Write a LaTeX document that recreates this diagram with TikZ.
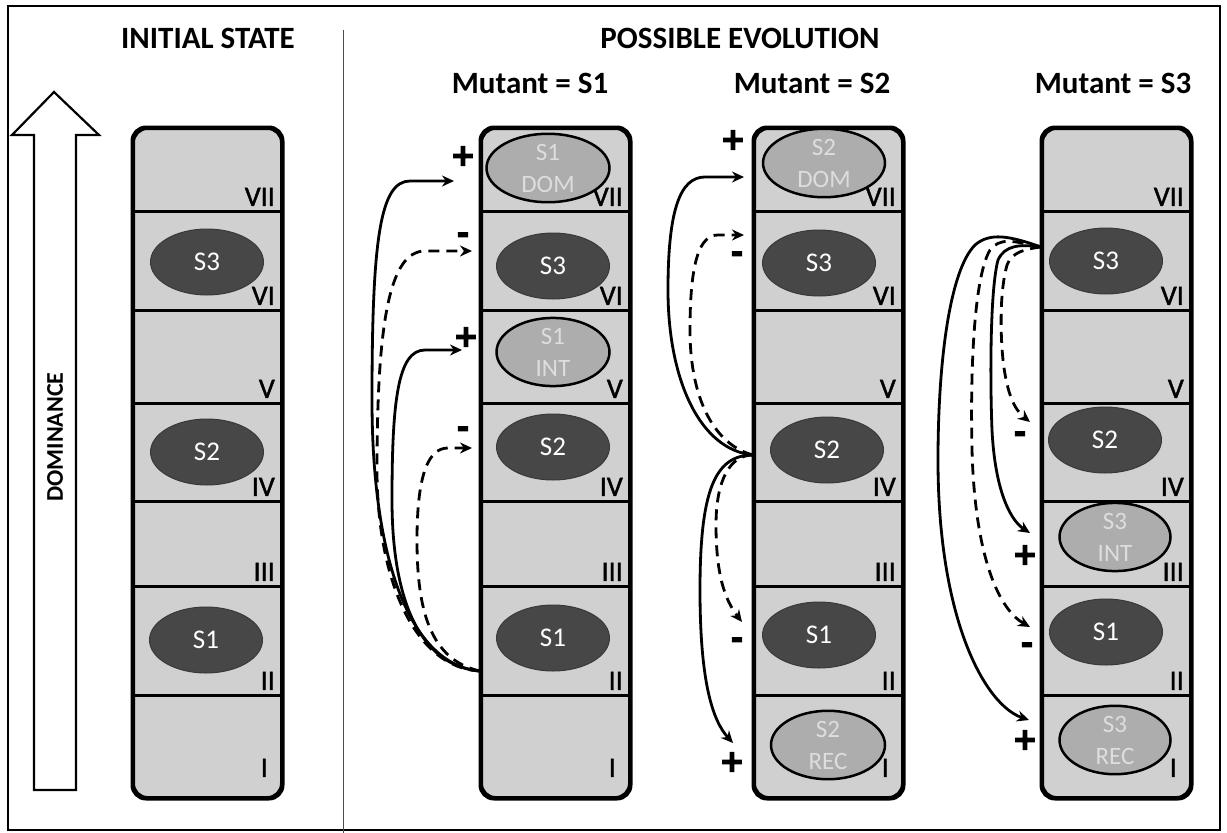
\documentclass[tikz,border=0pt]{standalone}
\usepackage{fontspec}
\setmainfont{Carlito}
\newfontfamily\signfont{DejaVu Sans Bold}[FakeBold=4]
\newfontfamily\romfont{Carlito}[FakeBold=1.5]
\usetikzlibrary{arrows.meta,shapes.geometric}
\definecolor{colfill}{HTML}{D0D0D0}
\definecolor{darkfill}{HTML}{474747}
\definecolor{lightfill}{HTML}{ADADAD}
\definecolor{lighttxt}{HTML}{DDDDDD}
\newcommand{\fsz}[1]{\fontsize{#1}{#1}\selectfont}
\begin{document}
\begin{tikzpicture}[x=1pt,y=-1pt,
  colbox/.style={draw, line width=3pt, rounded corners=14pt, fill=colfill, minimum width=148pt, minimum height=669pt, anchor=north west, inner sep=0pt},
  rowline/.style={line width=3pt},
  darkell/.style={ellipse, fill=darkfill, draw=darkfill!80!black, line width=1pt, minimum width=113pt, minimum height=66pt, inner sep=0pt, text=white, font=\fsz{27}},
  lightell/.style={ellipse, fill=lightfill, draw=black, line width=2.5pt, minimum width=116pt, minimum height=64pt, inner sep=0pt, text=lighttxt, font=\fontsize{25}{32}\selectfont, align=center},
  roman/.style={anchor=south east, font=\romfont\fsz{28}, inner sep=0pt},
  titletext/.style={font=\bfseries\fsz{31}, inner sep=0pt},
  sign/.style={font=\signfont\fsz{30}, inner sep=0pt},
  conn/.style={line width=2.8pt, -{Stealth[length=12pt,width=11pt]}},
  dconn/.style={conn, dash pattern=on 11pt off 7pt}
]
\useasboundingbox (0,0) rectangle (1227,833);
% frame and divider
\draw[line width=2.2pt] (8,6) rectangle (1220,830);
\draw[line width=0.8pt, black!70] (343,30) -- (343,833);

% titles
\node[titletext] (tinit) at (208,38) {INITIAL STATE};
\node[titletext] (tposs) at (740,38) {POSSIBLE EVOLUTION};
\node[titletext, anchor=base] (tm1) at (530,93) {Mutant = S1};
\node[titletext, anchor=base] (tm2) at (812,93) {Mutant = S2};
\node[titletext, anchor=base] (tm3) at (1113,93) {Mutant = S3};

% dominance arrow
\draw[line width=2.2pt, fill=white] (54,92) -- (99,135) -- (76,135) -- (76,790) -- (34,790) -- (34,135) -- (12,135) -- cycle;
\node[font=\bfseries\fsz{24}, rotate=90, inner sep=0pt] (dom) at (55,437) {DOMINANCE};

% columns
\foreach \nm/\xl in {c1/132, c2/480, c3/753, c4/1041}{
  \node[colbox] (\nm) at (\xl,127) {};
  \foreach \yy in {211,310,403,501,586,695}{
    \draw[rowline] (\xl,\yy) -- (\xl+148,\yy);
  }
  \draw[line width=3pt, rounded corners=14pt] (\nm.north west) rectangle (\nm.south east);
  \node[roman] (\nm r7) at (\xl+143,206) {VII};
  \node[roman] (\nm r6) at (\xl+143,305) {VI};
  \node[roman] (\nm r5) at (\xl+143,398) {V};
  \node[roman] (\nm r4) at (\xl+143,496) {IV};
  \node[roman] (\nm r3) at (\xl+143,581) {III};
  \node[roman] (\nm r2) at (\xl+143,690) {II};
  \node[roman] (\nm r1) at (\xl+136,777) {I};
}

% column 1 ellipses
\node[darkell] (c1s3) at (207,262) {S3};
\node[darkell] (c1s2) at (207,452) {S2};
\node[darkell] (c1s1) at (206,640) {S1};

% column 2 ellipses
\node[lightell, minimum width=123pt, minimum height=58pt] (c2dom) at (548,168) {S1\\DOM};
\node[darkell] (c2s3) at (553,266) {S3};
\node[lightell, minimum width=113pt, minimum height=68pt] (c2int) at (553,352) {S1\\INT};
\node[darkell] (c2s2) at (553,447) {S2};
\node[darkell] (c2s1) at (553,638) {S1};

% column 3 ellipses
\node[lightell, minimum width=122pt, minimum height=66pt] (c3dom) at (824,163) {S2\\DOM};
\node[darkell] (c3s3) at (819,263) {S3};
\node[darkell] (c3s2) at (827,450) {S2};
\node[darkell] (c3s1) at (819,635) {S1};
\node[lightell, minimum width=114pt, minimum height=65pt] (c3rec) at (828,745) {S2\\REC};

% column 4 ellipses
\node[darkell] (c4s3) at (1106,261) {S3};
\node[darkell] (c4s2) at (1105,440) {S2};
\node[lightell, minimum width=111pt, minimum height=68pt] (c4int) at (1115,537) {S3\\INT};
\node[darkell] (c4s1) at (1106,632) {S1};
\node[lightell, minimum width=111pt, minimum height=65pt] (c4rec) at (1115,740) {S3\\REC};

% ---------- connectors, column 2 ----------
\coordinate (o2) at (480,671);
\coordinate (t2a) at (454,181);
\coordinate (t2b) at (472,251);
\coordinate (t2c) at (462,350);
\coordinate (t2d) at (472,448);
\draw[conn] (o2) .. controls (410,665) and (372,560) .. (372,400) .. controls (372,240) and (380,181) .. (410,181) -- (t2a);
\draw[dconn] (o2) .. controls (415,668) and (377,580) .. (377,470) .. controls (377,320) and (390,251) .. (425,251) -- (t2b);
\draw[conn] (o2) .. controls (420,666) and (392,600) .. (392,500) .. controls (392,400) and (398,350) .. (425,350) -- (t2c);
\draw[dconn] (o2) .. controls (430,660) and (417,610) .. (417,540) .. controls (417,470) and (430,448) .. (448,448) -- (t2d);
\node[sign] (p2a) at (463,156) {+};
\node[sign] (m2b) at (463,238) {-};
\node[sign] (p2c) at (466,337) {+};
\node[sign] (m2d) at (463,432) {-};

% ---------- connectors, column 3 ----------
\coordinate (o3) at (753,455);
\coordinate (t3a) at (744,177);
\coordinate (t3b) at (744,235);
\coordinate (t3c) at (742,622);
\coordinate (t3d) at (733,743);
\draw[conn] (o3) .. controls (700,450) and (668,380) .. (668,290) .. controls (668,210) and (680,177) .. (705,177) -- (t3a);
\draw[dconn] (o3) .. controls (715,445) and (690,400) .. (690,330) .. controls (690,260) and (700,235) .. (718,235) -- (t3b);
\draw[dconn] (o3) .. controls (730,455) and (716,480) .. (716,525) .. controls (716,575) and (725,600) .. (t3c);
\draw[conn] (o3) .. controls (715,455) and (700,490) .. (700,590) .. controls (700,680) and (712,720) .. (t3d);
\node[sign] (p3a) at (733,140) {+};
\node[sign] (m3b) at (737,257) {-};
\node[sign] (m3c) at (737,643) {-};
\node[sign] (p3d) at (732,762) {+};

% ---------- connectors, column 4 ----------
\coordinate (o4) at (1041,247);
\coordinate (t4a) at (1030,422);
\coordinate (t4b) at (1030,533);
\coordinate (t4c) at (1030,627);
\coordinate (t4d) at (1029,720);
\draw[dconn] (o4) .. controls (1025,249) and (1012,252) .. (1007,265) .. controls (1000,290) and (1000,330) .. (1003,360) .. controls (1007,395) and (1015,410) .. (t4a);
\draw[conn] (o4) .. controls (1020,244) and (1005,245) .. (998,260) .. controls (990,290) and (990,380) .. (992,430) .. controls (995,490) and (1010,520) .. (t4b);
\draw[dconn] (o4) .. controls (1010,240) and (1000,238) .. (990,250) .. controls (975,275) and (970,360) .. (972,450) .. controls (975,560) and (1000,610) .. (t4c);
\draw[conn] (o4) .. controls (1010,236) and (990,232) .. (975,245) .. controls (950,270) and (938,360) .. (938,460) .. controls (938,620) and (985,705) .. (t4d);
\node[sign] (m4a) at (1020,437) {-};
\node[sign] (p4b) at (1025,555) {+};
\node[sign] (m4c) at (1027,648) {-};
\node[sign] (p4d) at (1025,740) {+};
\end{tikzpicture}
\end{document}
